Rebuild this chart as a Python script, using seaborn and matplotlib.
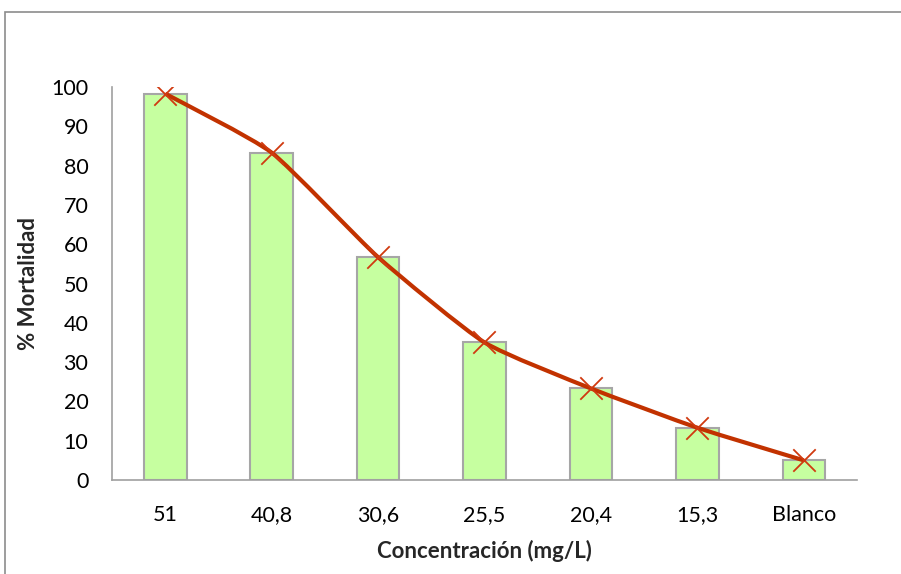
import numpy as np
import pandas as pd
import matplotlib
matplotlib.use("Agg")
import matplotlib.pyplot as plt
import seaborn as sns
from matplotlib.path import Path
from matplotlib.patches import PathPatch, Rectangle

categories = ["51", "40,8", "30,6", "25,5", "20,4", "15,3", "Blanco"]
mortality = [98.3, 83.3, 56.7, 35.0, 23.3, 13.3, 5.0]
y_ticks = [0, 10, 20, 30, 40, 50, 60, 70, 80, 90, 100]

sns.set_theme(style="white")
plt.rcParams["font.family"] = ["Lato", "DejaVu Sans"]

df = pd.DataFrame({"conc": categories, "mort": mortality})

fig = plt.figure(figsize=(9.01, 5.74), dpi=100)
ax = fig.add_axes([112 / 901, 1 - 480 / 574, (857 - 112) / 901, (480 - 87) / 574])

sns.barplot(data=df, x="conc", y="mort", ax=ax, width=0.4,
            color="#C6FFA0", edgecolor="#A6A6A6", linewidth=1.5, saturation=1)

# smoothed line (Bezier through data points)
xs = np.arange(len(mortality), dtype=float)
ys = np.array(mortality, dtype=float)
verts = [(xs[0], ys[0])]
codes = [Path.MOVETO]
t = 0.09
for i in range(len(xs) - 1):
    p0 = (xs[max(i - 1, 0)], ys[max(i - 1, 0)])
    p1 = (xs[i], ys[i])
    p2 = (xs[i + 1], ys[i + 1])
    p3 = (xs[min(i + 2, len(xs) - 1)], ys[min(i + 2, len(xs) - 1)])
    c1 = (p1[0] + (p2[0] - p0[0]) * t, p1[1] + (p2[1] - p0[1]) * t)
    c2 = (p2[0] - (p3[0] - p1[0]) * t, p2[1] - (p3[1] - p1[1]) * t)
    verts += [c1, c2, p2]
    codes += [Path.CURVE4] * 3
ax.add_patch(PathPatch(Path(verts, codes), facecolor="none",
                       edgecolor="#C23200", linewidth=3, zorder=4))
sns.scatterplot(x=xs, y=ys, ax=ax, marker="x", s=260, color="#D03A10",
                linewidth=1.3, zorder=5)

ax.set_xlim(-0.5, len(categories) - 0.5)
ax.set_ylim(0, 100)
ax.set_yticks(y_ticks)
ax.tick_params(axis="both", length=0, labelsize=15.5, colors="black")
ax.tick_params(axis="x", pad=18)
ax.tick_params(axis="y", pad=17)
for s in ["top", "right"]:
    ax.spines[s].set_visible(False)
for s in ["left", "bottom"]:
    ax.spines[s].set_color("#A0A0A0")
    ax.spines[s].set_linewidth(1.2)
ax.set_xlabel("Concentración (mg/L)", fontsize=16, fontweight="bold", labelpad=11)
ax.set_ylabel("% Mortalidad", fontsize=16, fontweight="bold")
ax.yaxis.set_label_coords(-0.098, 0.5)

# outer chart frame
fig.patches.append(Rectangle((5 / 901, -0.1), 1.2, 1 - 12 / 574 + 0.1,
                             transform=fig.transFigure, fill=False,
                             edgecolor="#8C8C8C", linewidth=1.2))

fig.savefig("out.png", dpi=100)
